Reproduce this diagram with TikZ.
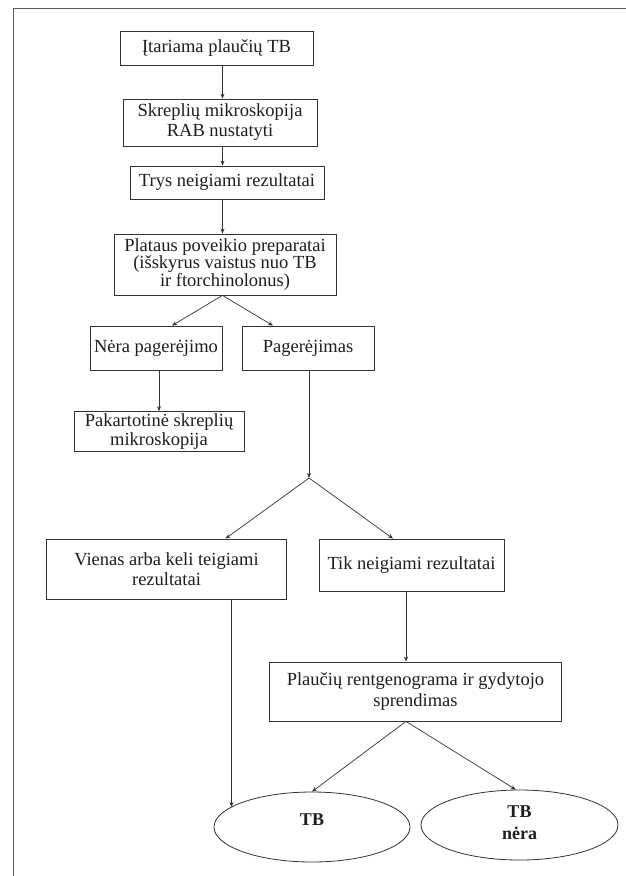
\documentclass[tikz,border=0pt]{standalone}
\usepackage{fontspec}
\setmainfont{Liberation Serif}
\usetikzlibrary{arrows.meta,shapes.geometric}
\definecolor{ink}{HTML}{333333}
\definecolor{txt}{HTML}{1E1E1E}
\tikzset{
  box/.style={draw=ink, line width=0.8pt, rectangle, align=center, inner sep=2pt,
    font=\fontsize{18.5}{20}\selectfont, text=txt},
  oval/.style={draw=ink, line width=0.8pt, ellipse, align=center, inner sep=0pt},
  ovaltext/.style={font=\fontsize{18}{22}\selectfont\bfseries, text=txt, align=center},
  arr/.style={draw=ink, line width=0.7pt, -{Stealth[length=5pt,width=4pt]}},
  frame/.style={draw=ink!80, line width=1pt}
}
\begin{document}
\begin{tikzpicture}[x=1pt,y=-1pt]
\useasboundingbox (0,0) rectangle (626,876);
\fill[white] (0,0) rectangle (626,876);
\draw[frame] (626,8) -- (13,8) -- (13,876);

\node[box, minimum width=193pt, minimum height=34pt] (b1) at (216.5,48) {Įtariama plaučių TB};
\node[box, minimum width=194pt, minimum height=47pt] (b2) at (220,122.5) {Skreplių mikroskopija\\RAB nustatyti};
\node[box, minimum width=194pt, minimum height=33pt] (b3) at (227,182.5) {Trys neigiami rezultatai};
\node[box, minimum width=222pt, minimum height=61pt, font=\fontsize{18.5}{16.5}\selectfont] (b4) at (225,264.5) {Plataus poveikio preparatai\\(išskyrus vaistus nuo TB\\ir ftorchinolonus)};
\node[box, minimum width=132pt, minimum height=44pt] (nera) at (156,348) {Nėra pagerėjimo};
\node[box, minimum width=132pt, minimum height=44pt] (pag) at (308,348) {Pagerėjimas};
\node[box, minimum width=170pt, minimum height=39pt, font=\fontsize{18.5}{19}\selectfont] (pak) at (159,431.5) {Pakartotinė skreplių\\mikroskopija};
\node[box, minimum width=240pt, minimum height=60pt] (vien) at (166.5,569) {Vienas arba keli teigiami\\rezultatai};
\node[box, minimum width=185pt, minimum height=52pt] (tik) at (411.5,565) {Tik neigiami rezultatai};
\node[box, minimum width=292pt, minimum height=59pt, font=\fontsize{18.5}{21}\selectfont] (rent) at (415.5,691.5) {Plaučių rentgenograma ir gydytojo\\sprendimas};
\node[oval, minimum width=196pt, minimum height=70pt] (tb) at (312,827) {};
\node[oval, minimum width=197pt, minimum height=70pt] (tbn) at (519.5,825) {};
\node[ovaltext] (tbt) at (312,820) {TB};
\node[ovaltext] (tbnt) at (519.5,823) {TB\\nėra};

\coordinate (x1) at (222.5,0);
\coordinate (xa) at (172,0);
\coordinate (xb) at (273,0);
\coordinate (xn) at (159,0);
\coordinate (xp) at (309,0);
\coordinate (j) at (309,478);
\coordinate (xv) at (225.5,0);
\coordinate (xt) at (393,0);
\coordinate (x2) at (406,0);
\coordinate (x3) at (231.5,0);
\coordinate (tbin) at (231.5,807);

\draw[arr] (b1.south -| x1) -- (b2.north -| x1);
\draw[arr] (b2.south -| x1) -- (b3.north -| x1);
\draw[arr] (b3.south -| x1) -- (b4.north -| x1);
\draw[arr] (b4.south -| x1) -- (nera.north -| xa);
\draw[arr] (b4.south -| x1) -- (pag.north -| xb);
\draw[arr] (nera.south -| xn) -- (pak.north -| xn);
\draw[arr] (pag.south -| xp) -- (j);
\draw[arr] (j) -- (vien.north -| xv);
\draw[arr] (j) -- (tik.north -| xt);
\draw[arr] (tik.south -| x2) -- (rent.north -| x2);
\draw[arr] (rent.south -| x2) -- (tb.north);
\draw[arr] (rent.south -| x2) -- (tbn.96);
\draw[arr] (vien.south -| x3) -- (tbin);
\end{tikzpicture}
\end{document}
